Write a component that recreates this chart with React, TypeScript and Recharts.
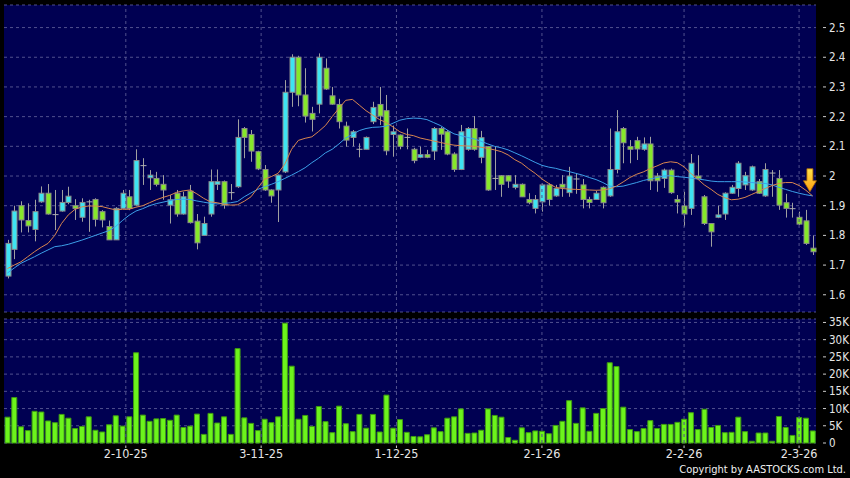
import React from "react";
import {
  ComposedChart,
  Bar,
  Line,
  XAxis,
  YAxis,
  CartesianGrid,
  ReferenceLine,
  ReferenceDot,
} from "recharts";

// daily OHLC (oldest first)
const openP = [
  1.663, 1.753, 1.9, 1.85, 1.82, 1.913, 1.942, 1.87, 1.882, 1.911,
  1.9, 1.861, 1.913, 1.921, 1.88, 1.83, 1.785, 1.891, 1.93, 1.902,
  2.035, 1.994, 1.992, 1.972, 1.902, 1.942, 1.872, 1.949, 1.848, 1.8,
  1.872, 1.972, 1.981, 1.944, 1.964, 2.16, 2.14, 2.082, 2.022, 1.953,
  1.953, 2.014, 2.282, 2.4, 2.273, 2.211, 2.242, 2.363, 2.27, 2.241,
  2.168, 2.13, 2.09, 2.09, 2.183, 2.241, 2.22, 2.14, 2.138, 2.13,
  2.09, 2.063, 2.072, 2.084, 2.16, 2.149, 2.074, 2.022, 2.09, 2.16,
  2.063, 2.099, 1.992, 2.001, 2.001, 1.962, 1.972, 1.921, 1.891, 1.913,
  1.97, 1.933, 1.972, 1.944, 1.99, 1.97, 1.921, 1.921, 1.962, 1.933,
  2.022, 2.16, 2.099, 2.119, 2.09, 2.108, 2.0, 1.992, 2.02, 1.921,
  1.899, 1.891, 2.0, 1.93, 1.84, 1.861, 1.872, 1.942, 1.958, 1.97,
  1.953, 1.981, 1.933, 2.01, 1.992, 1.91, 1.89, 1.861, 1.849, 1.757,
];
const highP = [
  1.785, 1.9, 1.915, 1.908, 1.92, 1.965, 1.973, 1.953, 1.953, 1.964,
  1.922, 1.925, 1.92, 1.925, 1.885, 1.85, 1.895, 1.953, 1.953, 2.09,
  2.06, 2.02, 2.014, 2.003, 1.936, 1.953, 1.947, 1.97, 1.872, 1.863,
  2.022, 2.022, 1.985, 1.973, 2.191, 2.165, 2.155, 2.085, 2.037, 1.955,
  2.005, 2.323, 2.41, 2.405, 2.363, 2.233, 2.413, 2.396, 2.3, 2.26,
  2.183, 2.155, 2.11, 2.133, 2.25, 2.3, 2.273, 2.17, 2.14, 2.16,
  2.095, 2.099, 2.088, 2.165, 2.165, 2.155, 2.08, 2.172, 2.165, 2.202,
  2.152, 2.1, 2.099, 2.003, 2.003, 2.003, 1.975, 1.942, 1.936, 1.975,
  1.975, 1.97, 2.003, 2.031, 2.01, 1.99, 1.93, 1.95, 1.965, 2.16,
  2.222, 2.165, 2.121, 2.132, 2.13, 2.132, 2.01, 2.025, 2.025, 1.936,
  1.947, 2.074, 2.07, 1.936, 1.84, 1.9, 1.945, 1.97, 2.05, 2.014,
  2.035, 1.99, 2.043, 2.02, 2.02, 1.94, 1.91, 1.88, 1.886, 1.8,
];
const lowP = [
  1.655, 1.72, 1.81, 1.81, 1.78, 1.91, 1.87, 1.818, 1.88, 1.905,
  1.852, 1.846, 1.812, 1.83, 1.827, 1.785, 1.785, 1.89, 1.885, 1.9,
  1.97, 1.953, 1.965, 1.92, 1.84, 1.863, 1.87, 1.84, 1.753, 1.8,
  1.863, 1.953, 1.89, 1.92, 1.96, 2.06, 2.048, 2.02, 1.95, 1.91,
  1.845, 2.01, 2.233, 2.235, 2.18, 2.15, 2.211, 2.29, 2.24, 2.16,
  2.099, 2.1, 2.063, 2.09, 2.175, 2.172, 2.07, 2.065, 2.09, 2.09,
  2.043, 2.06, 2.06, 2.054, 2.088, 2.07, 2.014, 2.02, 2.085, 2.085,
  2.043, 1.95, 1.953, 1.93, 1.96, 1.955, 1.93, 1.905, 1.874, 1.88,
  1.9, 1.93, 1.93, 1.93, 1.94, 1.891, 1.891, 1.92, 1.891, 1.93,
  2.009, 2.043, 2.043, 2.054, 2.085, 1.953, 1.947, 1.96, 1.94, 1.874,
  1.83, 1.869, 1.99, 1.835, 1.762, 1.858, 1.852, 1.94, 1.93, 1.953,
  1.95, 1.94, 1.93, 1.93, 1.886, 1.86, 1.86, 1.835, 1.768, 1.734,
];
const closeP = [
  1.773, 1.882, 1.852, 1.832, 1.88, 1.942, 1.872, 1.87, 1.911, 1.932,
  1.891, 1.911, 1.913, 1.854, 1.852, 1.785, 1.891, 1.942, 1.891, 2.052,
  2.035, 2.003, 1.972, 1.953, 1.92, 1.872, 1.93, 1.843, 1.775, 1.84,
  1.981, 1.981, 1.902, 1.944, 2.13, 2.13, 2.084, 2.024, 1.953, 1.933,
  2.003, 2.282, 2.4, 2.273, 2.202, 2.191, 2.4, 2.293, 2.242, 2.183,
  2.121, 2.149, 2.09, 2.13, 2.231, 2.202, 2.085, 2.149, 2.1, 2.13,
  2.052, 2.072, 2.063, 2.16, 2.141, 2.074, 2.022, 2.149, 2.16, 2.09,
  2.129, 1.953, 1.992, 1.972, 1.983, 1.972, 1.93, 1.91, 1.921, 1.97,
  1.921, 1.958, 1.962, 2.0, 1.99, 1.921, 1.911, 1.942, 1.91, 2.022,
  2.149, 2.112, 2.09, 2.091, 2.108, 1.984, 1.984, 2.02, 1.944, 1.912,
  1.872, 2.043, 1.992, 1.84, 1.812, 1.869, 1.942, 1.962, 2.043, 2.001,
  2.031, 1.942, 2.022, 2.01, 1.902, 1.891, 1.89, 1.838, 1.773, 1.745,
];
// moving averages as drawn (orange = 10 day, blue = 20 day)
const ma10 = [
  1.688, 1.7, 1.711, 1.728, 1.745, 1.76, 1.773, 1.8, 1.84, 1.869,
  1.888, 1.896, 1.899, 1.899, 1.897, 1.891, 1.886, 1.888, 1.888, 1.895,
  1.9, 1.91, 1.92, 1.928, 1.935, 1.945, 1.95, 1.953, 1.94, 1.925,
  1.913, 1.91, 1.905, 1.902, 1.903, 1.915, 1.93, 1.96, 1.989, 1.998,
  2.009, 2.04, 2.09, 2.12, 2.127, 2.132, 2.15, 2.17, 2.2, 2.228,
  2.255, 2.258, 2.239, 2.22, 2.205, 2.19, 2.18, 2.165, 2.149, 2.14,
  2.136, 2.128, 2.123, 2.118, 2.113, 2.108, 2.104, 2.102, 2.101, 2.1,
  2.097, 2.093, 2.088, 2.082, 2.071, 2.055, 2.043, 2.025, 2.009, 1.99,
  1.975, 1.962, 1.958, 1.956, 1.955, 1.954, 1.953, 1.952, 1.953, 1.957,
  1.966, 1.98, 1.995, 2.006, 2.014, 2.025, 2.034, 2.044, 2.048, 2.045,
  2.031, 2.009, 1.99, 1.97, 1.955, 1.938, 1.927, 1.92, 1.922, 1.928,
  1.938, 1.948, 1.958, 1.968, 1.975, 1.978, 1.978, 1.968, 1.952, 1.933,
];
const ma20 = [
  1.673, 1.69, 1.706, 1.717, 1.728, 1.74, 1.751, 1.762, 1.765, 1.77,
  1.777, 1.784, 1.792, 1.8, 1.808, 1.816, 1.83, 1.85, 1.868, 1.882,
  1.89, 1.9, 1.907, 1.912, 1.917, 1.921, 1.922, 1.921, 1.916, 1.912,
  1.908, 1.906, 1.908, 1.91, 1.914, 1.93, 1.943, 1.955, 1.964, 1.972,
  1.981, 1.992, 2.003, 2.015, 2.028, 2.045, 2.06, 2.078, 2.09, 2.108,
  2.128, 2.14, 2.153, 2.16, 2.164, 2.165, 2.168, 2.178, 2.188, 2.193,
  2.195, 2.194, 2.19, 2.18, 2.17, 2.155, 2.142, 2.136, 2.13, 2.125,
  2.117, 2.108, 2.1, 2.095, 2.088, 2.078, 2.068, 2.057, 2.046, 2.036,
  2.03, 2.026, 2.02, 2.015, 2.009, 2.003, 1.995, 1.988, 1.978, 1.966,
  1.964, 1.966, 1.972, 1.978, 1.985, 1.99, 1.995, 2.0, 2.001, 1.998,
  1.996, 1.993, 1.99, 1.987, 1.983, 1.981, 1.981, 1.981, 1.981, 1.98,
  1.978, 1.976, 1.975, 1.97, 1.962, 1.955, 1.948, 1.942, 1.937, 1.933,
];
// volume, thousands of shares
const volK = [
  7.5, 13.2, 4.7, 3.6, 9.2, 9.0, 6.4, 5.9, 8.3, 7.2,
  4.2, 4.8, 7.6, 3.7, 3.2, 5.3, 7.9, 4.9, 7.6, 26.2,
  8.1, 6.3, 7.0, 7.1, 6.6, 8.1, 4.5, 4.9, 8.4, 2.5,
  8.6, 5.8, 7.6, 2.5, 27.4, 7.3, 5.7, 3.6, 6.9, 5.9,
  7.6, 34.8, 22.3, 6.9, 8.0, 4.8, 10.6, 6.2, 3.0, 10.7,
  5.6, 3.3, 8.3, 4.3, 8.3, 3.2, 13.9, 4.3, 6.8, 3.1,
  1.9, 1.8, 2.4, 4.4, 3.3, 7.2, 7.6, 9.9, 2.8, 2.9,
  3.7, 9.9, 8.0, 7.5, 1.6, 0.8, 4.4, 3.0, 3.5, 3.4,
  2.7, 5.1, 6.3, 12.3, 5.7, 10.2, 3.4, 8.6, 10.0, 23.3,
  22.2, 10.4, 3.9, 3.3, 4.2, 6.5, 4.2, 5.4, 5.4, 6.0,
  6.9, 8.8, 3.9, 9.8, 4.5, 5.1, 3.0, 3.1, 7.5, 3.3,
  0.5, 2.9, 2.9, 0.5, 7.7, 4.5, 2.2, 7.4, 7.2, 3.5,
];

const priceTicks = [1.6, 1.7, 1.8, 1.9, 2, 2.1, 2.2, 2.3, 2.4, 2.5];
const volTicks = [0, 5, 10, 15, 20, 25, 30, 35];
const dateTicks = [18.5, 38.5, 58.5, 80, 101, 118];
const dateLabels = ["2-10-25", "3-11-25", "1-12-25", "2-1-26", "2-2-26", "2-3-26"];

const arrowX = 119.6;
const arrowTip = 1.947;

const NAVY = "#000052";
const GRID = "#50508e";
const UP = "#3ee4f2";
const DOWN = "#86e82a";
const FONT = "'DejaVu Sans Condensed', 'DejaVu Sans', sans-serif";

const rows = openP.map((o, k) => ({
  i: k + 1,
  o,
  h: highP[k],
  l: lowP[k],
  c: closeP[k],
  ma10: ma10[k],
  ma20: ma20[k],
  v: volK[k],
}));

function Candle(props: any) {
  const { x, y, width, height, payload } = props;
  if (!payload) return null;
  const { o, h, l, c } = payload;
  const top = Math.min(y, y + height);
  const full = Math.abs(height);
  const k = full / (h - l || 0.0001);
  const bTop = top + (h - Math.max(o, c)) * k;
  const bBot = top + (h - Math.min(o, c)) * k;
  const cx = Math.round(x + width / 2) + 0.5;
  return (
    <g>
      <line x1={cx} x2={cx} y1={top} y2={top + full} stroke="#a0a0a0" strokeWidth={1} />
      {bBot - bTop < 1.2 ? (
        <line x1={cx - 3} x2={cx + 3} y1={bTop} y2={bTop} stroke="#b0b0b0" strokeWidth={1} />
      ) : (
        <rect
          x={cx - 2.5}
          y={bTop}
          width={5}
          height={bBot - bTop}
          fill={c > o ? UP : DOWN}
          stroke="#8a8a8a"
          strokeWidth={1}
        />
      )}
    </g>
  );
}

function RightTick(props: any) {
  const { x, y, payload, fmt } = props;
  return (
    <g>
      <line x1={x - 1} x2={x + 2} y1={y} y2={y} stroke="#cccccc" />
      <text x={x + 5} y={y + 4} fill="#e6e6e6" fontSize={11.5} fontFamily={FONT} textAnchor="start">
        {fmt(payload.value)}
      </text>
    </g>
  );
}

function DateTick(props: any) {
  const { x, y, payload } = props;
  const idx = dateTicks.indexOf(payload.value);
  return (
    <g>
      <line x1={x} x2={x} y1={y - 5.5} y2={y - 3} stroke="#cccccc" />
      <text x={x} y={y + 7} fill="#e6e6e6" fontSize={12.5} fontFamily={FONT} textAnchor="middle">
        {dateLabels[idx]}
      </text>
    </g>
  );
}

function Arrow(props: any) {
  const { cx, cy } = props;
  return (
    <g>
      <defs>
        <linearGradient id="arrowFill" x1="0" y1="0" x2="0" y2="1">
          <stop offset="0" stopColor="#ffe14a" />
          <stop offset="1" stopColor="#ff9e10" />
        </linearGradient>
      </defs>
      <path
        d={`M${cx - 3},${cy - 23} L${cx + 3},${cy - 23} L${cx + 3},${cy - 11} L${cx + 6.5},${cy - 11} L${cx},${cy} L${cx - 6.5},${cy - 11} L${cx - 3},${cy - 11} Z`}
        fill="url(#arrowFill)"
        stroke="#b06a00"
        strokeWidth={0.8}
      />
    </g>
  );
}

export default function App() {
  return (
    <div
      style={{
        position: "absolute",
        left: 0,
        top: 0,
        width: 850,
        height: 478,
        background: "#000",
        overflow: "hidden",
      }}
    >
      <div style={{ position: "absolute", left: 0, top: 0 }}>
        <ComposedChart width={850} height={318} data={rows} margin={{ top: 5, right: 0, bottom: 6, left: 4 }}>
          <CartesianGrid fill={NAVY} stroke={GRID} strokeDasharray="3 3" vertical={false} />
          <XAxis dataKey="i" type="number" domain={[0.5, 120.5]} hide />
          <YAxis
            orientation="right"
            width={34}
            domain={[1.542, 2.576]}
            ticks={priceTicks}
            interval={0}
            axisLine={false}
            tickLine={false}
            tick={<RightTick fmt={(v: number) => String(v)} />}
          />
          {dateTicks.map((d) => (
            <ReferenceLine key={d} x={d} stroke={GRID} strokeDasharray="3 3" />
          ))}
          <Bar dataKey={(d: any) => [d.l, d.h]} barSize={5} shape={<Candle />} isAnimationActive={false} />
          <Line dataKey="ma20" type="linear" stroke="#3c9fe8" strokeWidth={1} dot={false} isAnimationActive={false} />
          <Line dataKey="ma10" type="linear" stroke="#d9864f" strokeWidth={1} dot={false} isAnimationActive={false} />
          <ReferenceDot x={arrowX} y={arrowTip} shape={<Arrow />} />
        </ComposedChart>
      </div>
      <div style={{ position: "absolute", left: 0, top: 313 }}>
        <ComposedChart width={850} height={165} data={rows} margin={{ top: 6, right: 0, bottom: 0, left: 4 }}>
          <CartesianGrid fill={NAVY} stroke={GRID} strokeDasharray="3 3" vertical={false} />
          <XAxis
            dataKey="i"
            type="number"
            domain={[0.5, 120.5]}
            ticks={dateTicks}
            interval={0}
            height={35}
            axisLine={false}
            tickLine={false}
            tick={<DateTick />}
          />
          <YAxis
            orientation="right"
            width={34}
            domain={[0, 36]}
            ticks={volTicks}
            interval={0}
            axisLine={false}
            tickLine={false}
            tick={<RightTick fmt={(v: number) => (v === 0 ? "0" : `${v}K`)} />}
          />
          {dateTicks.map((d) => (
            <ReferenceLine key={d} x={d} stroke={GRID} strokeDasharray="3 3" />
          ))}
          <Bar dataKey="v" barSize={5} fill="#6cf41c" stroke="#3f9a12" strokeWidth={1} isAnimationActive={false} />
        </ComposedChart>
      </div>
      <div
        style={{
          position: "absolute",
          right: 4,
          top: 463,
          color: "#f0f0f0",
          fontFamily: FONT,
          fontSize: 11,
          lineHeight: "14px",
        }}
      >
        Copyright by AASTOCKS.com Ltd.
      </div>
    </div>
  );
}
